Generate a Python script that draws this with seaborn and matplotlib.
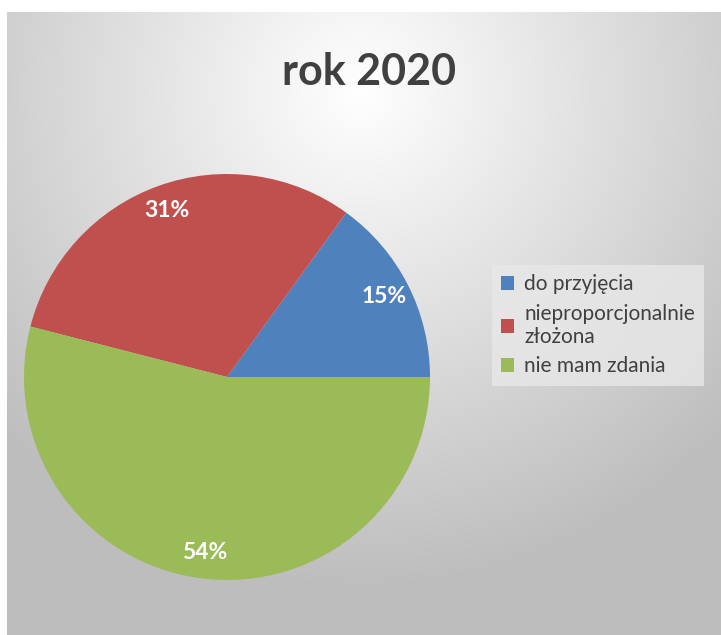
import numpy as np
import matplotlib
matplotlib.use("Agg")
import matplotlib.pyplot as plt
import seaborn as sns

# Data
labels = ["do przyjęcia", "nieproporcjonalnie\nzłożona", "nie mam zdania"]
shares = [15, 31, 54]
colors = ["#4f81bd", "#c0504d", "#9bbb59"]
title = "rok 2020"

sns.set_style("white")
plt.rcParams["font.family"] = ["Lato", "DejaVu Sans"]

W, H = 721, 635
fig = plt.figure(figsize=(W / 100, H / 100), dpi=100)
fig.patch.set_facecolor("white")

# background with radial gradient (chart area)
x0, y0 = 7, 12
bg = fig.add_axes([x0 / W, 0, 1 - x0 / W, 1 - y0 / H])
bg.set_axis_off()
yy, xx = np.mgrid[y0:H, x0:W]
r = np.hypot(xx - 360, yy - 90)
grey = 255 - 66 * np.clip(r / 500, 0, 1)
img = np.dstack([grey, grey, grey]) / 255
bg.imshow(img, aspect="auto", extent=[0, 1, 0, 1], interpolation="bilinear")
bg.set_xlim(0, 1)
bg.set_ylim(0, 1)

# pie axes
cx, cy, rad = 227, 377, 203
ax = fig.add_axes([(cx - rad) / W, (H - cy - rad) / H, 2 * rad / W, 2 * rad / H])
ax.set_facecolor("none")
wedges, texts, autotexts = ax.pie(
    shares, colors=colors, startangle=0, counterclock=True,
    autopct="%1.0f%%", pctdistance=0.87, radius=1,
    textprops=dict(color="white", fontsize=16.5, fontweight="bold"),
    wedgeprops=dict(linewidth=0),
)
ax.set_xlim(-1, 1)
ax.set_ylim(-1, 1)
ax.set_aspect("equal")
ax.set_axis_off()

fig.text(369 / W, 1 - 72 / H, title, ha="center", va="center",
         fontsize=31, fontweight="bold", color="#404040")

leg = fig.legend(wedges, labels, loc="upper left",
                 bbox_to_anchor=(492 / W, 1 - 265 / H), borderaxespad=0,
                 frameon=True, fontsize=15, handlelength=0.6, handleheight=0.6,
                 handletextpad=0.5, labelspacing=0.45, borderpad=0.45,
                 fancybox=False)
leg.get_frame().set_facecolor("#e8e8e8")
leg.get_frame().set_edgecolor("none")
leg.get_frame().set_alpha(0.8)
for t in leg.get_texts():
    t.set_color("#404040")

fig.savefig("out.png", dpi=100)
